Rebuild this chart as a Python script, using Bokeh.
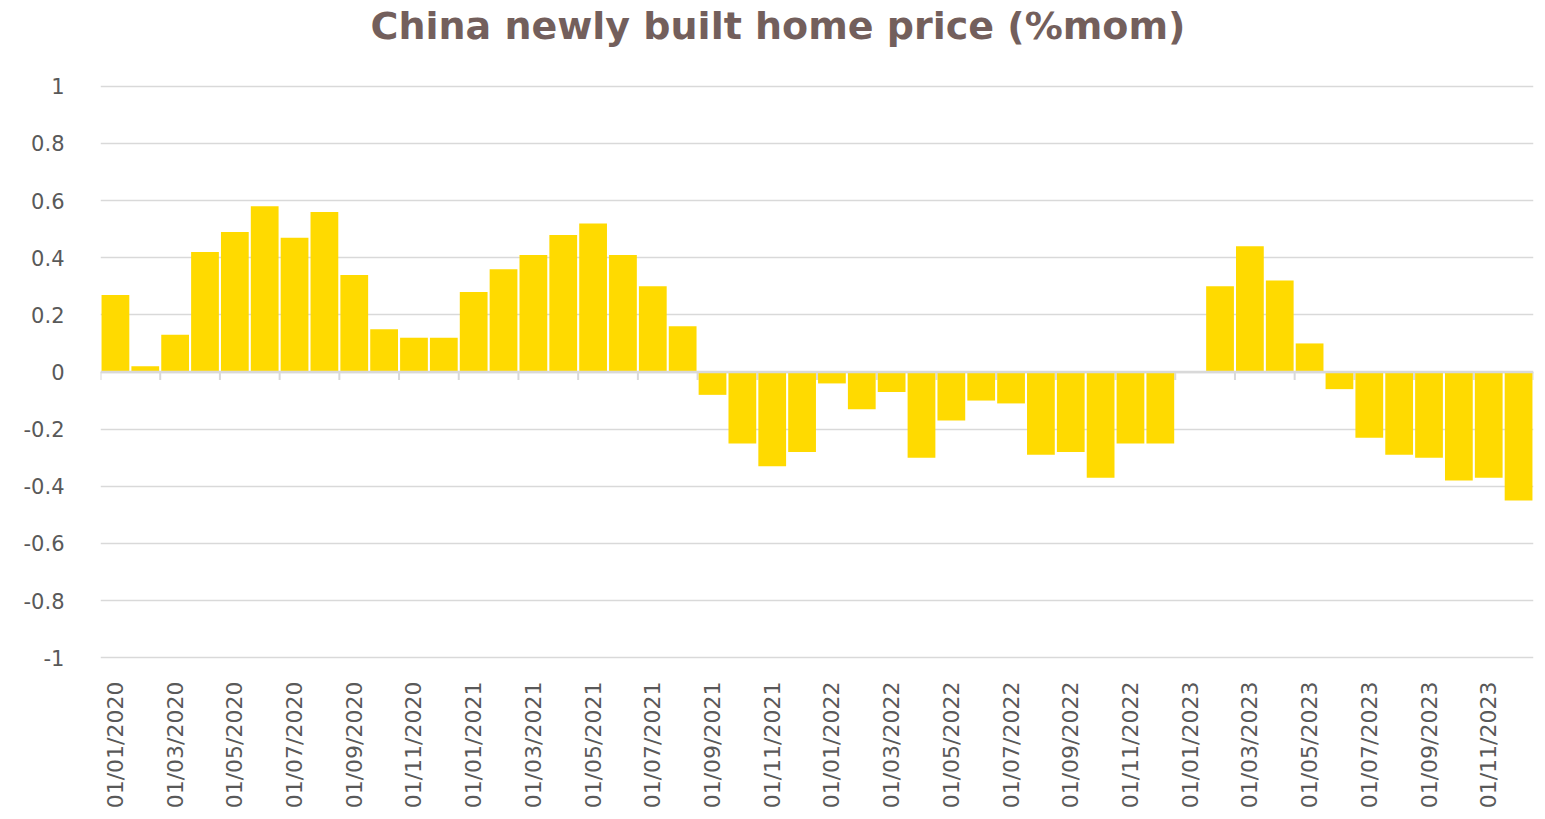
import math
from bokeh.plotting import figure
from bokeh.models import Range1d, FixedTicker, NumeralTickFormatter, Span, ColumnDataSource, Title
from bokeh.embed import file_html
from bokeh.resources import INLINE

# ---- data ----
months = [f"01/{m:02d}/{y}" for y in (2020, 2021, 2022, 2023) for m in range(1, 13)]
mom_2020 = [0.27, 0.02, 0.13, 0.42, 0.49, 0.58, 0.47, 0.56, 0.34, 0.15, 0.12, 0.12]
mom_2021 = [0.28, 0.36, 0.41, 0.48, 0.52, 0.41, 0.30, 0.16, -0.08, -0.25, -0.33, -0.28]
mom_2022 = [-0.04, -0.13, -0.07, -0.30, -0.17, -0.10, -0.11, -0.29, -0.28, -0.37, -0.25, -0.25]
mom_2023 = [float("nan"), 0.30, 0.44, 0.32, 0.10, -0.06, -0.23, -0.29, -0.30, -0.38, -0.37, -0.45]
values = mom_2020 + mom_2021 + mom_2022 + mom_2023
y_ticks = [-1, -0.8, -0.6, -0.4, -0.2, 0, 0.2, 0.4, 0.6, 0.8, 1]
title_text = "China newly built home price (%mom)"

n = len(values)
centers = [i + 0.5 for i in range(n)]
src = ColumnDataSource(dict(x=centers, top=values))

p = figure(width=1537, height=811, output_backend="svg", toolbar_location=None, title=None,
           x_range=Range1d(0, n), y_range=Range1d(-1.01, 1.01),
           min_border_left=100, min_border_right=4, min_border_top=83, min_border_bottom=151)
p.outline_line_color = None
p.background_fill_color = "white"

# spacer (closest to frame) then the real title (outermost)
p.add_layout(Title(text=" ", text_font_size="1px", standoff=33), "above")
p.add_layout(Title(text=title_text, text_font="DejaVu Sans", text_font_size="38px",
                   text_font_style="bold", text_color="#735F5C", align="left",
                   offset=270, standoff=0), "above")

# grid
p.xgrid.visible = False
p.ygrid.ticker = FixedTicker(ticks=y_ticks)
p.ygrid.grid_line_color = "#D9D9D9"
p.ygrid.grid_line_width = 1.6

# zero axis line and boundary tick marks
p.add_layout(Span(location=0, dimension="width", line_color="#D9D9D9", line_width=2.5))
bounds = list(range(0, n + 1, 2))
p.segment(x0=bounds, x1=bounds, y0=[0] * len(bounds), y1=[-0.028] * len(bounds),
          line_color="#D9D9D9", line_width=2)

p.vbar(x="x", top="top", bottom=0, width=0.93, source=src,
       fill_color="#FFDA00", line_color=None)

# y axis
ya = p.yaxis[0]
ya.ticker = FixedTicker(ticks=y_ticks)
ya.formatter = NumeralTickFormatter(format="0.[0]")
ya.axis_line_color = None
ya.major_tick_line_color = None
ya.minor_tick_line_color = None
ya.major_label_standoff = 30
ya.major_label_text_font = "DejaVu Sans"
ya.major_label_text_font_size = "21px"
ya.major_label_text_color = "#595959"

# x axis
xa = p.xaxis[0]
label_pos = [centers[i] for i in range(0, n, 2)]
xa.ticker = FixedTicker(ticks=label_pos, minor_ticks=[])
xa.major_label_overrides = {centers[i]: months[i] for i in range(0, n, 2)}
xa.major_label_orientation = math.pi / 2
xa.axis_line_color = None
xa.major_tick_line_color = None
xa.minor_tick_line_color = None
xa.major_label_standoff = 15
xa.major_label_text_font = "DejaVu Sans"
xa.major_label_text_font_size = "22px"
xa.major_label_text_color = "#595959"

open("out.html", "w").write(file_html(p, INLINE))
